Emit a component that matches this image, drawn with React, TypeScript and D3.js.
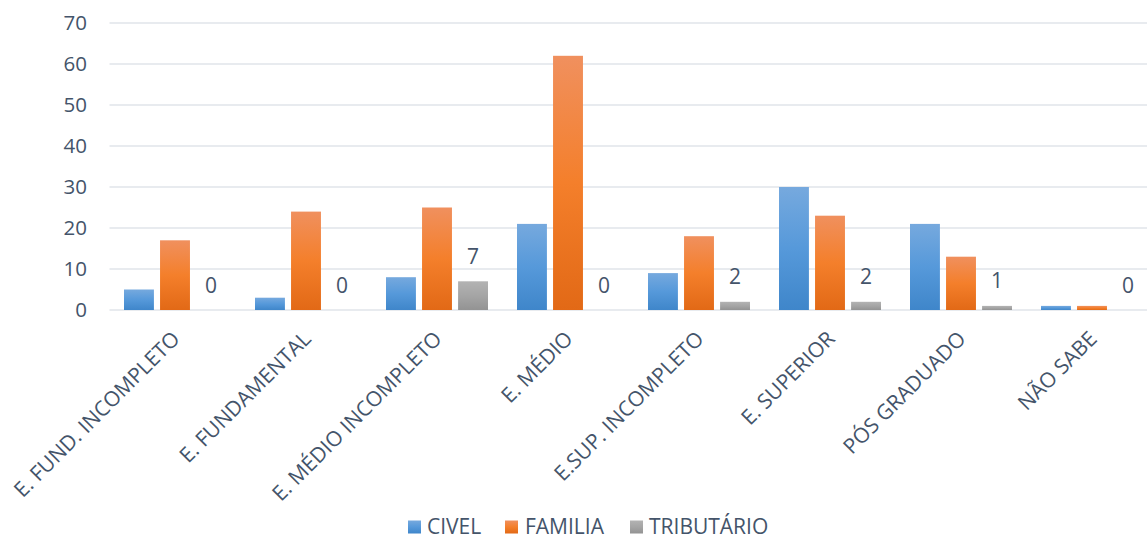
import React from "react";
import * as d3 from "d3";

const categories = [
  "E. FUND. INCOMPLETO",
  "E. FUNDAMENTAL",
  "E. MÉDIO INCOMPLETO",
  "E. MÉDIO",
  "E.SUP. INCOMPLETO",
  "E. SUPERIOR",
  "PÓS GRADUADO",
  "NÃO SABE",
];
const seriesNames = ["CIVEL", "FAMILIA", "TRIBUTÁRIO"];
const civel = [5, 3, 8, 21, 9, 30, 21, 1];
const familia = [17, 24, 25, 62, 18, 23, 13, 1];
const tributario = [0, 0, 7, 0, 2, 2, 1, 0];
const yTicks = [0, 10, 20, 30, 40, 50, 60, 70];

const gradients = [
  { id: "gCivel", top: "#76A9DE", mid: "#5699DA", bottom: "#3F86CA" },
  { id: "gFamilia", top: "#F0905E", mid: "#F47F2B", bottom: "#E26916" },
  { id: "gTrib", top: "#B3B3B3", mid: "#A5A5A5", bottom: "#939393" },
];

const W = 1147;
const H = 538;
const FONT = "'Open Sans', sans-serif";
const TEXT = "#44546A";

export default function App() {
  const series = [civel, familia, tributario];
  const x0 = d3.scaleBand().domain(categories).range([109.5, 109.5 + 131 * 8]).paddingInner(0).paddingOuter(0);
  const inner = d3.scaleBand().domain(seriesNames).range([14.5, 131 - 14.5]).paddingInner(0.17);
  const y = d3.scaleLinear().domain([0, 70]).range([310, 23]);

  const legendItems = [
    { name: "CIVEL", sq: 408, tx: 427 },
    { name: "FAMILIA", sq: 505, tx: 525 },
    { name: "TRIBUTÁRIO", sq: 630, tx: 649 },
  ];

  return (
    <svg width={W} height={H} style={{ position: "absolute", left: 0, top: 0, background: "#fff" }}>
      <defs>
        {gradients.map((g) => (
          <linearGradient key={g.id} id={g.id} x1="0" y1="0" x2="0" y2="1">
            <stop offset="0%" stopColor={g.top} />
            <stop offset="50%" stopColor={g.mid} />
            <stop offset="100%" stopColor={g.bottom} />
          </linearGradient>
        ))}
      </defs>
      <rect x={0} y={0} width={W} height={H} fill="#fff" />
      {yTicks.map((t) => (
        <g key={t}>
          <line x1={109.5} x2={W} y1={y(t)} y2={y(t)} stroke="#E1E5EA" strokeWidth={1.5} />
          <text x={87} y={y(t)} dy="0.36em" textAnchor="end" fontFamily={FONT} fontSize={20.5} fill={TEXT}>
            {t}
          </text>
        </g>
      ))}
      {categories.map((c, i) => (
        <g key={c} transform={`translate(${x0(c)},0)`}>
          {series.map((s, j) => {
            const bx = inner(seriesNames[j])!;
            const v = s[i];
            return (
              <g key={j}>
                {v > 0 && (
                  <rect
                    x={bx}
                    y={y(v)}
                    width={inner.bandwidth()}
                    height={y(0) - y(v)}
                    fill={`url(#${gradients[j].id})`}
                  />
                )}
                {j === 2 && (
                  <text
                    x={bx + inner.bandwidth() / 2}
                    y={y(v) - 17.5}
                    textAnchor="middle"
                    fontFamily={FONT}
                    fontSize={21}
                    fill={TEXT}
                  >
                    {v}
                  </text>
                )}
              </g>
            );
          })}
          <text
            transform={`translate(${x0.bandwidth() / 2 - 5},${329}) rotate(-45)`}
            textAnchor="end"
            dy="0.75em"
            fontFamily={FONT}
            fontSize={21}
            fill={TEXT}
          >
            {c}
          </text>
        </g>
      ))}
      {legendItems.map((l, j) => (
        <g key={l.name}>
          <rect x={l.sq} y={520.5} width={13} height={13} fill={`url(#${gradients[j].id})`} />
          <text x={l.tx} y={533.5} fontFamily={FONT} fontSize={21} fill={TEXT}>
            {l.name}
          </text>
        </g>
      ))}
    </svg>
  );
}
